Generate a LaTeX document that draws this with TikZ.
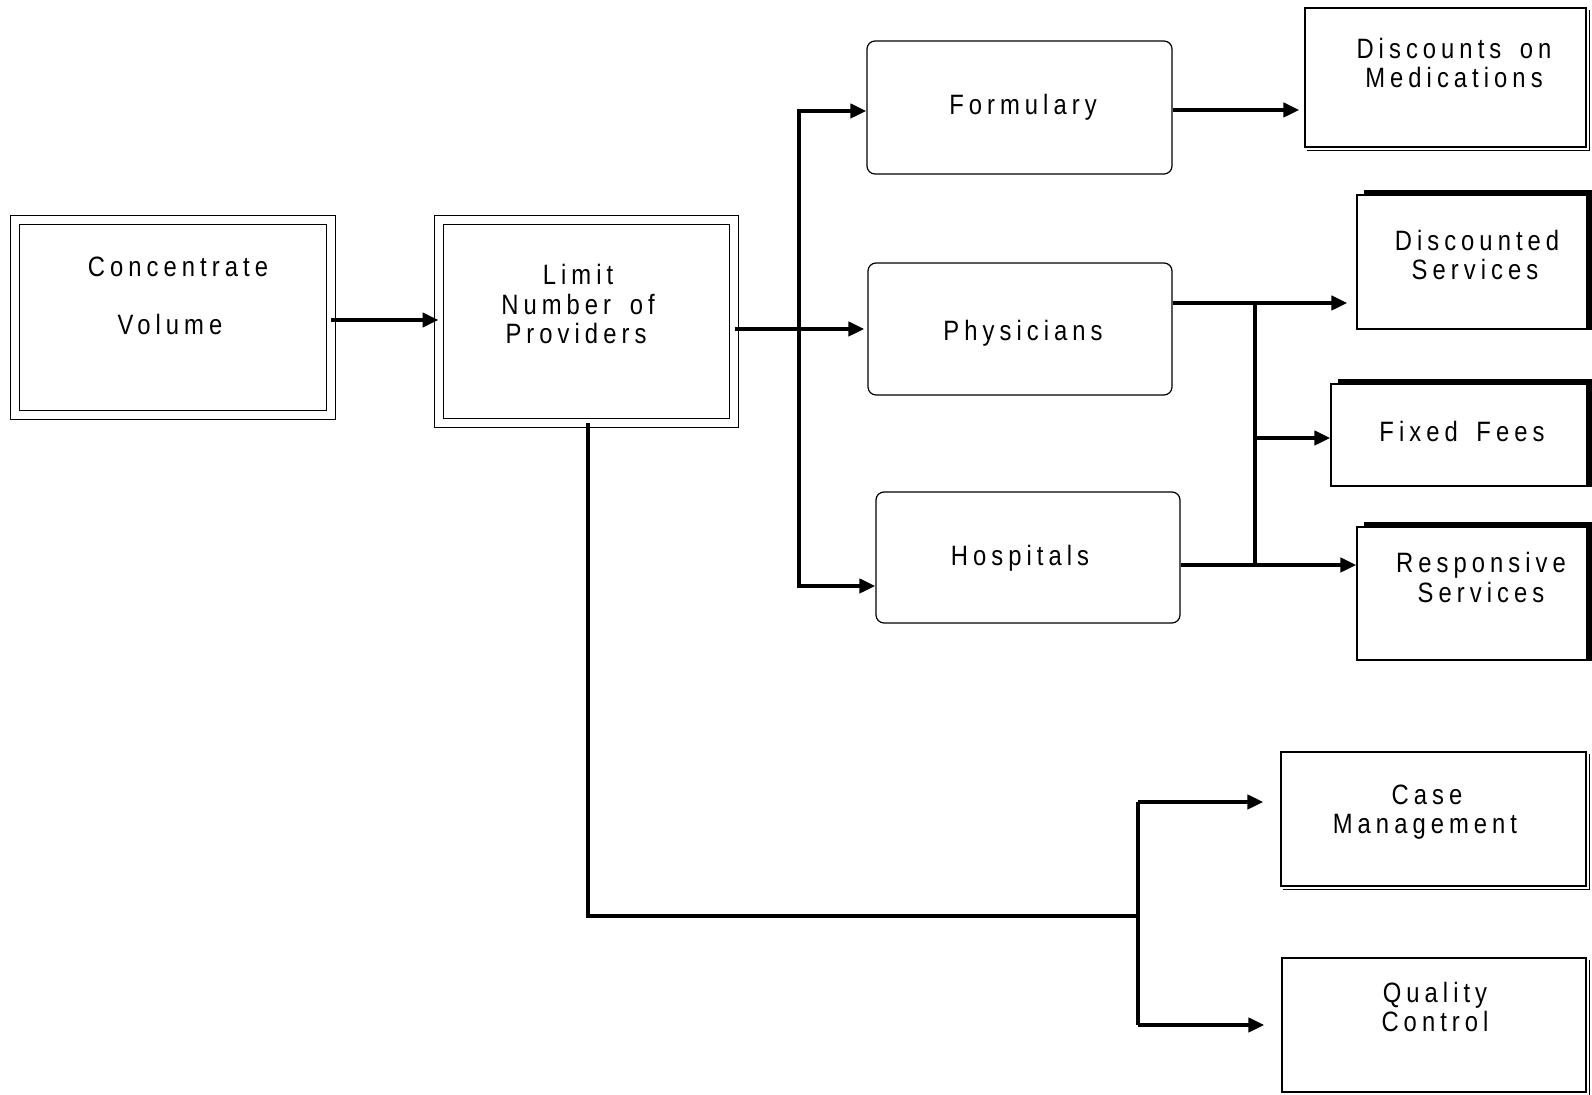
\documentclass[tikz,border=0pt]{standalone}
\usepackage{fontspec}
\setmainfont{Liberation Sans}[FakeStretch=0.85,LetterSpace=18,WordSpace=1.6]
\usetikzlibrary{arrows.meta}
\begin{document}
\begin{tikzpicture}[x=0.5pt,y=-0.5pt,
  dbl/.style={draw, double, double distance=4pt, line width=0.5pt, inner sep=0pt},
  rnd/.style={draw, rounded corners=4pt, line width=0.6pt, inner sep=0pt},
  plain/.style={draw, line width=0.6pt, inner sep=0pt},
  lbl/.style={inner sep=0pt, anchor=base, font=\fontsize{14}{15}\selectfont},
  arr/.style={line width=2pt, -{Triangle[length=8pt,width=7pt]}},
  bus/.style={line width=2pt},
  heavy/.style={line width=2pt},
  shade/.style={line width=0.6pt}
]
\useasboundingbox (0,0) rectangle (1592,1095);

% boxes
\node[dbl, minimum width=158pt, minimum height=97.5pt] (conc) at (172.5,318) {};
\node[dbl, minimum width=147.5pt, minimum height=101.5pt] (limit) at (586.5,321.5) {};
\node[rnd, minimum width=152.5pt, minimum height=66.5pt] (form) at (1019.5,107.5) {};
\node[rnd, minimum width=152pt, minimum height=66pt] (phys) at (1020,329) {};
\node[rnd, minimum width=152pt, minimum height=65.5pt] (hosp) at (1028,557.5) {};
\node[plain, minimum width=140.5pt, minimum height=69.5pt] (disc) at (1445.5,77.5) {};
\node[plain, minimum width=115pt, minimum height=67pt] (dserv) at (1472,262) {};
\node[plain, minimum width=128pt, minimum height=51pt] (fees) at (1459,435) {};
\node[plain, minimum width=115pt, minimum height=66.5pt] (resp) at (1472,593.5) {};
\node[plain, minimum width=152.5pt, minimum height=67pt] (casem) at (1433.5,819) {};
\node[plain, minimum width=152pt, minimum height=67pt] (qual) at (1434,1025) {};

% thin offset edges below and to the right
\foreach \b in {disc,casem,qual}
  \draw[shade] ([xshift=1.5pt,yshift=-1.5pt]\b.south west) -- ([xshift=1.5pt,yshift=-1.5pt]\b.south east)
    -- ([xshift=1.5pt,yshift=-1.5pt]\b.north east);

% heavy top and right edges
\foreach \b in {dserv,fees,resp}
  \draw[heavy] ([xshift=4pt,yshift=1pt]\b.north west) -- ([xshift=1pt,yshift=1pt]\b.north east)
    -- ([xshift=1pt]\b.south east);

% labels
\node[lbl] (t-conc1) at (178,277) {Concentrate};
\node[lbl] (t-conc2) at (170,335) {Volume};
\node[lbl] (t-lim1) at (578,285) {Limit};
\node[lbl] (t-lim2) at (578,315) {Number of};
\node[lbl] (t-lim3) at (576,344) {Providers};
\node[lbl] (t-form) at (1023,115) {Formulary};
\node[lbl] (t-disc1) at (1454,59) {Discounts on};
\node[lbl] (t-disc2) at (1454,88) {Medications};
\node[lbl] (t-phys) at (1023,341) {Physicians};
\node[lbl] (t-hosp) at (1020,566) {Hospitals};
\node[lbl] (t-ds1) at (1477,251) {Discounted};
\node[lbl] (t-ds2) at (1475,280) {Services};
\node[lbl] (t-fees) at (1462,442) {Fixed Fees};
\node[lbl] (t-resp1) at (1481,573) {Responsive};
\node[lbl] (t-resp2) at (1481,603) {Services};
\node[lbl] (t-case1) at (1427,805) {Case};
\node[lbl] (t-case2) at (1425,834) {Management};
\node[lbl] (t-qual1) at (1435,1003) {Quality};
\node[lbl] (t-qual2) at (1435,1032) {Control};

% junction points
\coordinate (trk) at (799,329);
\coordinate (trkF) at (799,111);
\coordinate (trkH) at (799,586);
\coordinate (busA) at (1255,303);
\coordinate (busB) at (1255,438);
\coordinate (busC) at (1255,565);
\coordinate (dn) at (588,916);
\coordinate (qb) at (1138,916);
\coordinate (qbA) at (1138,802);
\coordinate (qbB) at (1138,1025);

% connectors
\draw[arr] (conc.east |- 0,320) -- (limit.west |- 0,320);
\draw[arr, shorten >=1.5pt] (limit.east |- trk) -- (phys.west |- trk);
\draw[arr] (trkH) -- (trkF) -- (form.west |- trkF);
\draw[arr] (trk) -- (trkH) -- (hosp.west |- trkH);
\draw[arr, shorten >=2.5pt] (form.east |- 0,110) -- (disc.west |- 0,110);
\draw[arr, shorten >=4.5pt] (phys.east |- busA) -- (dserv.west |- busA);
\draw[bus] (busA) -- (busC);
\draw[arr] (busB) -- (fees.west |- busB);
\draw[arr] (hosp.east |- busC) -- (resp.west |- busC);
\draw[bus, line width=2.3pt] (limit.south -| dn) -- (dn) -- (qb);
\draw[bus] (qbA) -- (qbB);
\draw[arr, shorten >=8.5pt] (qbA) -- (casem.west |- qbA);
\draw[arr, shorten >=8.5pt] (qbB) -- (qual.west |- qbB);
\end{tikzpicture}
\end{document}
